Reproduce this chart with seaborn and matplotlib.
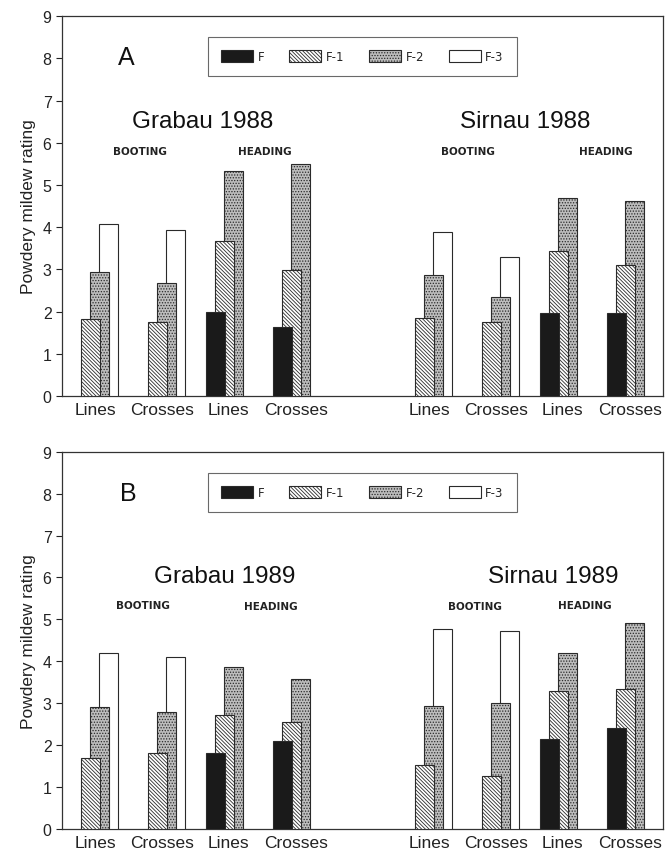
import numpy as np
import pandas as pd
import matplotlib
matplotlib.use('Agg')
import matplotlib.pyplot as plt
from matplotlib.patches import Patch
import seaborn as sns

sns.set_style('white')
plt.rcParams['font.family'] = ['Liberation Sans', 'DejaVu Sans']
plt.rcParams['hatch.linewidth'] = 0.6

# slots along the x axis (slot 'gap' is left empty between the two sites)
slots = ['GBL', 'GBC', 'GHL', 'GHC', 'gap', 'SBL', 'SBC', 'SHL', 'SHC']
slot_labels = ['Lines', 'Crosses', 'Lines', 'Crosses', '', 'Lines', 'Crosses', 'Lines', 'Crosses']
gens = ['F', 'F-1', 'F-2', 'F-3']

# ratings per slot, one list per generation (None = not measured)
A_F  = [None, None, 2.00, 1.63, None, None, None, 1.98, 1.96]
A_F1 = [1.82, 1.75, 3.68, 2.99, None, 1.84, 1.75, 3.44, 3.10]
A_F2 = [2.95, 2.67, 5.32, 5.50, None, 2.88, 2.35, 4.68, 4.61]
A_F3 = [4.07, 3.93, None, None, None, 3.88, 3.30, None, None]

B_F  = [None, None, 1.81, 2.09, None, None, None, 2.14, 2.40]
B_F1 = [1.69, 1.82, 2.72, 2.56, None, 1.52, 1.27, 3.29, 3.33]
B_F2 = [2.91, 2.78, 3.86, 3.59, None, 2.93, 3.01, 4.20, 4.92]
B_F3 = [4.19, 4.11, None, None, None, 4.78, 4.72, None, None]

titles_A = ['Grabau 1988', 'Sirnau 1988']
titles_B = ['Grabau 1989', 'Sirnau 1989']


def long_df(series):
    rows = []
    for g, vals in zip(gens, series):
        for s, v in zip(slots, vals):
            if v is not None:
                rows.append(dict(slot=s, gen=g, val=v))
    return pd.DataFrame(rows)


pal = {'F': '#1a1a1a', 'F-1': '#ffffff', 'F-2': '#bdbdbd', 'F-3': '#ffffff'}
hatches = {'F': '', 'F-1': '\\' * 9, 'F-2': '.' * 6, 'F-3': ''}
ec = '#2a2a2a'
dodge_w = 0.54


def panel(ax, series, letter, titles, txt):
    df = long_df(series)
    sns.barplot(data=df, x='slot', y='val', hue='gen', order=slots, hue_order=gens,
                palette=pal, width=dodge_w, dodge=True, errorbar=None, saturation=1,
                edgecolor=ec, linewidth=0.8, legend=False, ax=ax)
    step = dodge_w / len(gens)
    for p in list(ax.patches):
        w = p.get_width()
        c = p.get_x() + w / 2
        k = int(round((c - round(c)) / step + 1.5))
        g = gens[k]
        p.set_width(2.1 * w)
        p.set_x(c - 1.05 * w)
        p.set_hatch(hatches[g])
        p.set_zorder(10 - k)
    ax.set_xlim(-0.5, 8.5)
    ax.set_ylim(0, 9)
    ax.set_yticks(range(10))
    ax.set_xticks([i for i, s in enumerate(slots) if s != 'gap'])
    ax.set_xticklabels([l for l in slot_labels if l])
    ax.tick_params(axis='x', length=0, labelsize=12.5, pad=4, colors='#222')
    ax.tick_params(axis='y', length=4, width=0.8, direction='out', labelsize=11.5, colors='#222', left=True)
    ax.set_xlabel('')
    ax.set_ylabel('Powdery mildew rating', fontsize=12.5, color='#222', labelpad=5)
    for sp in ax.spines.values():
        sp.set_color('#333')
        sp.set_linewidth(0.9)
    ax.text(txt[0][0], txt[0][1], letter, fontsize=18, ha='center', va='center', color='#111')
    ax.text(txt[1][0], txt[1][1], titles[0], fontsize=17.5, ha='center', va='center', color='#111')
    ax.text(txt[2][0], txt[2][1], titles[1], fontsize=17.5, ha='center', va='center', color='#111')
    for (x, y), lab in zip(txt[3:], ['BOOTING', 'HEADING', 'BOOTING', 'HEADING']):
        ax.text(x, y, lab, fontsize=7.5, fontweight='bold', family='DejaVu Sans',
                ha='center', va='center', color='#222')
    handles = [Patch(facecolor=pal[g], edgecolor=ec, hatch=hatches[g], linewidth=0.8) for g in gens]
    leg = ax.legend(handles, gens, ncol=4, loc='upper left', bbox_to_anchor=(0.233, 0.96),
                    frameon=True, fancybox=False, edgecolor='#444',
                    handlelength=2.7, handleheight=1.2, columnspacing=2.1, borderpad=1.1,
                    handletextpad=0.4, prop={'family': 'DejaVu Sans', 'size': 8.5})
    leg.get_frame().set_linewidth(0.8)


fig = plt.figure(figsize=(6.66, 8.54), dpi=100)
axA = fig.add_axes([0.093, 0.535, 0.9025, 0.445])
axB = fig.add_axes([0.093, 0.028, 0.9025, 0.442])

txtA = [(0.47, 8.03), (1.60, 6.52), (6.43, 6.52),
        (0.67, 5.81), (2.54, 5.81), (5.58, 5.81), (7.64, 5.81)]
txtB = [(0.50, 8.01), (1.93, 6.03), (6.85, 6.03),
        (0.71, 5.34), (2.63, 5.31), (5.68, 5.31), (7.33, 5.35)]

panel(axA, [A_F, A_F1, A_F2, A_F3], 'A', titles_A, txtA)
panel(axB, [B_F, B_F1, B_F2, B_F3], 'B', titles_B, txtB)

fig.savefig('out.png', dpi=100)
